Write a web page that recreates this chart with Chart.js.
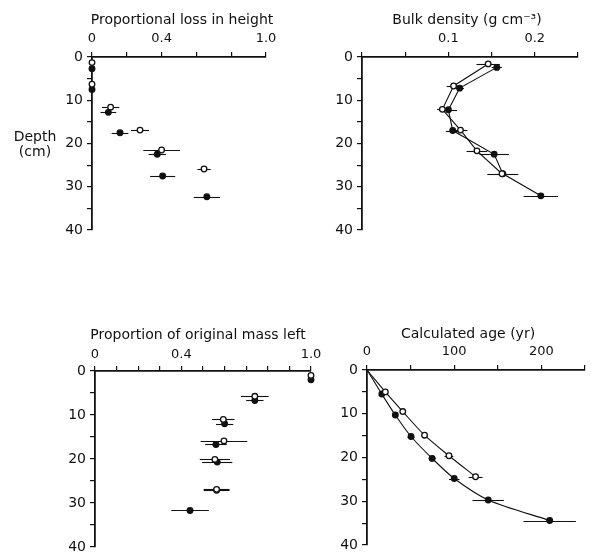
<!DOCTYPE html>
<html>
<head>
<meta charset="utf-8">
<script src="https://cdn.jsdelivr.net/npm/chart.js@4.4.1/dist/chart.umd.min.js"></script>
<style>
  body { margin: 0; background: #fff; }
  #wrap { position: relative; width: 591px; height: 554px; overflow: hidden; }
  canvas { position: absolute; }
</style>
</head>
<body>
<div id="wrap">
  <canvas id="loss"></canvas>
  <canvas id="density"></canvas>
  <canvas id="mass"></canvas>
  <canvas id="age"></canvas>
</div>
<script>
// ---- data (depth in cm) ----
// proportional loss in height
const lossOpenDepth = [1.3, 6.3, 11.6, 16.9, 21.5, 25.9];
const lossOpen = [0, 0, 0.107, 0.276, 0.40, 0.644];
const lossOpenErr = [0, 0, 0.05, 0.052, 0.105, 0.038];
const lossFilledDepth = [2.7, 7.5, 12.8, 17.5, 22.5, 27.5, 32.3];
const lossFilled = [0, 0, 0.094, 0.161, 0.375, 0.406, 0.66];
const lossFilledErr = [0, 0, 0.045, 0.048, 0.05, 0.072, 0.075];

// bulk density (g cm-3)
const densOpenDepth = [1.6, 6.7, 12.1, 16.9, 21.7, 27.0];
const densOpen = [0.146, 0.106, 0.093, 0.114, 0.133, 0.162];
const densOpenErr = [0.0135, 0.008, 0.006, 0.008, 0.012, 0];
const densFilledDepth = [2.4, 7.2, 12.2, 17.0, 22.5, 27.0, 32.1];
const densFilled = [0.156, 0.113, 0.100, 0.105, 0.153, 0.163, 0.207];
const densFilledErr = [0.006, 0.005, 0.01, 0.008, 0.017, 0.018, 0.02];

// proportion of original mass left
const massOpenDepth = [1.0, 5.75, 11.0, 15.9, 20.1, 26.9];
const massOpen = [1.0, 0.74, 0.594, 0.597, 0.555, 0.563];
const massOpenErr = [0, 0.064, 0.052, 0.108, 0.07, 0.06];
const massFilledDepth = [2.0, 6.7, 12.0, 16.7, 20.7, 27.1, 31.7];
const massFilled = [1.0, 0.74, 0.60, 0.56, 0.566, 0.563, 0.44];
const massFilledErr = [0, 0.04, 0.04, 0.05, 0.07, 0.06, 0.087];

// calculated age (yr)
const ageOpenDepth = [0, 5.0, 9.5, 14.9, 19.6, 24.4];
const ageOpen = [0, 21, 41, 66, 94, 124.5];
const ageOpenErr = [0, 0, 0, 0, 5, 8];
const ageFilledDepth = [0, 5.5, 10.3, 15.2, 20.2, 24.8, 29.7, 34.4];
const ageFilled = [0, 17, 32.5, 50.5, 74.7, 100, 139, 209.5];
const ageFilledErr = [0, 0, 0, 4, 4, 6, 18, 30];

// tick labels
const depthTicks = [0, 10, 20, 30, 40];
const lossTicks = [0, 0.4, 1.0];
const lossTickText = ['0', '0.4', '1.0'];
const densTicks = [0.1, 0.2];
const densTickText = ['0.1', '0.2'];
const massTicks = [0, 0.4, 1.0];
const massTickText = ['0', '0.4', '1.0'];
const ageTicks = [0, 100, 200];
const ageTickText = ['0', '100', '200'];

Chart.defaults.font.family = "'DejaVu Sans', sans-serif";
Chart.defaults.color = '#111';

const INK = '#111';

function pts(xs, ys) {
  return xs.map((v, i) => ({ x: v, y: ys[i] }));
}

function series(xs, ys, err, filled, line) {
  return {
    data: pts(xs, ys),
    xerr: err,
    clip: false,
    showLine: !!line,
    borderColor: INK,
    borderWidth: 1.1,
    tension: line === 'curve' ? 0.3 : 0,
    pointBackgroundColor: filled ? INK : '#fff',
    pointBorderColor: INK,
    pointBorderWidth: 1.3,
    pointRadius: ctx => (ctx.raw && ctx.raw.x === 0 && ctx.raw.y === 0) ? 0 : 2.8
  };
}

// horizontal error bars, drawn under the points
const errorBars = {
  id: 'errorBars',
  beforeDatasetsDraw(chart) {
    const { ctx, scales: { x, y } } = chart;
    ctx.save();
    ctx.strokeStyle = INK;
    ctx.lineWidth = 1.1;
    chart.data.datasets.forEach(ds => {
      if (!ds.xerr) return;
      ds.data.forEach((p, i) => {
        const e = ds.xerr[i];
        if (!e) return;
        const py = Math.round(y.getPixelForValue(p.y)) + 0.5;
        ctx.beginPath();
        ctx.moveTo(x.getPixelForValue(p.x - e), py);
        ctx.lineTo(x.getPixelForValue(p.x + e), py);
        ctx.stroke();
      });
    });
    ctx.restore();
  }
};

// panel heading (centred over the plot area) and the depth label
const panelText = {
  id: 'panelText',
  afterDraw(chart, args, opts) {
    const ctx = chart.ctx;
    const area = chart.chartArea;
    ctx.save();
    ctx.fillStyle = INK;
    ctx.font = "14px 'DejaVu Sans', sans-serif";
    ctx.textAlign = 'center';
    ctx.textBaseline = 'middle';
    if (opts.title) {
      ctx.fillText(opts.title, (area.left + area.right) / 2 + (opts.dx || 0), opts.titleY);
    }
    if (opts.side) {
      opts.side.lines.forEach((t, i) => ctx.fillText(t, opts.side.x, opts.side.y + i * 15));
    }
    ctx.restore();
  }
};

function pickLabel(v, vals, texts) {
  const k = vals.findIndex(t => Math.abs(t - v) < 1e-9);
  return k < 0 ? '' : texts[k];
}

function panel(id, o) {
  const a = o.area;
  const yW = o.yW || 60;
  const padR = 24, padB = 14;
  const left = a.l - yW, top = o.top;
  const w = a.r - left + padR, h = a.b - top + padB;
  const cv = document.getElementById(id);
  cv.style.left = left + 'px';
  cv.style.top = top + 'px';
  cv.style.width = w + 'px';
  cv.style.height = h + 'px';
  cv.width = w;
  cv.height = h;

  new Chart(cv, {
    type: 'scatter',
    data: { datasets: o.datasets },
    options: {
      responsive: false,
      animation: false,
      layout: { padding: { left: 0, top: 0, right: padR, bottom: padB } },
      plugins: {
        legend: { display: false },
        tooltip: { enabled: false },
        panelText: { title: o.title, titleY: o.titleY, dx: o.dx, side: o.side }
      },
      scales: {
        x: {
          type: 'linear',
          position: 'top',
          min: o.xMin,
          max: o.xMax,
          border: { display: true, color: INK, width: 1.8 },
          grid: { drawOnChartArea: false, drawTicks: true, tickLength: 5, color: INK, lineWidth: 1.2 },
          ticks: {
            stepSize: o.xStep,
            autoSkip: false,
            maxRotation: 0,
            padding: o.xPad,
            font: { size: 13 },
            color: INK,
            callback: v => pickLabel(v, o.xTicks, o.xText)
          },
          afterFit(s) { s.height = a.t - top; }
        },
        y: {
          type: 'linear',
          reverse: true,
          min: 0,
          max: 40,
          border: { display: true, color: INK, width: 1.8 },
          grid: { drawOnChartArea: false, drawTicks: true, tickLength: 5, color: INK, lineWidth: 1.2 },
          ticks: {
            stepSize: 5,
            autoSkip: false,
            padding: 4,
            font: { size: 14 },
            color: INK,
            callback: v => pickLabel(v, depthTicks, depthTicks.map(String))
          },
          afterFit(s) { s.width = yW; }
        }
      }
    },
    plugins: [errorBars, panelText]
  });
}

panel('loss', {
  area: { l: 92, t: 57, r: 266, b: 230 },
  top: 0, yW: 90, xPad: 6, titleY: 20, dx: 3,
  xMin: 0, xMax: 1.0, xStep: 0.2, xTicks: lossTicks, xText: lossTickText,
  title: 'Proportional loss in height',
  side: { lines: ['Depth', '(cm)'], x: 33, y: 137 },
  datasets: [
    series(lossOpen, lossOpenDepth, lossOpenErr, false),
    series(lossFilled, lossFilledDepth, lossFilledErr, true)
  ]
});

panel('density', {
  area: { l: 362, t: 57, r: 578, b: 230 },
  top: 0, xPad: 6, titleY: 20, dx: -3,
  xMin: 0, xMax: 0.25, xStep: 0.05, xTicks: densTicks, xText: densTickText,
  title: 'Bulk density (g cm\u207B\u00B3)',
  datasets: [
    series(densOpen, densOpenDepth, densOpenErr, false, 'straight'),
    series(densFilled, densFilledDepth, densFilledErr, true, 'straight')
  ]
});

panel('mass', {
  area: { l: 95, t: 371, r: 311, b: 547 },
  top: 310, xPad: 4, titleY: 25, dx: -5,
  xMin: 0, xMax: 1.0, xStep: 0.1, xTicks: massTicks, xText: massTickText,
  title: 'Proportion of original mass left',
  datasets: [
    series(massOpen, massOpenDepth, massOpenErr, false),
    series(massFilled, massFilledDepth, massFilledErr, true)
  ]
});

panel('age', {
  area: { l: 367, t: 370, r: 585, b: 545 },
  top: 310, xPad: 6, titleY: 24, dx: -8,
  xMin: 0, xMax: 250, xStep: 50, xTicks: ageTicks, xText: ageTickText,
  title: 'Calculated age (yr)',
  datasets: [
    series(ageOpen, ageOpenDepth, ageOpenErr, false, 'curve'),
    series(ageFilled, ageFilledDepth, ageFilledErr, true, 'curve')
  ]
});
</script>
</body>
</html>
